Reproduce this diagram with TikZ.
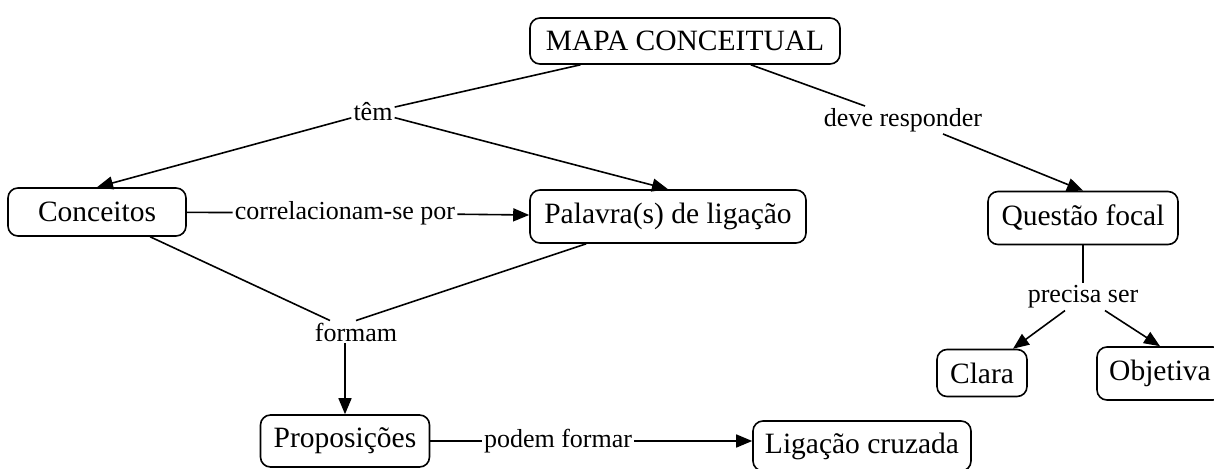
\documentclass[tikz,border=0pt]{standalone}
\usepackage{fontspec}
\setmainfont{Liberation Serif}
\usetikzlibrary{arrows.meta,calc}
\begin{document}
\begin{tikzpicture}[x=1pt,y=-1pt,
  concept/.style={draw, rounded corners=10pt, line width=1.6pt, inner sep=0pt,
    font=\fontsize{29.5}{33}\selectfont},
  lbl/.style={inner sep=2pt, font=\fontsize{26}{30}\selectfont},
  link/.style={line width=1.6pt},
  arr/.style={line width=1.6pt, -{Triangle[length=16pt,width=13pt]}}]
\useasboundingbox (0,0) rectangle (1214,468);
\clip (0,0) rectangle (1214,468);
% concepts
\node[concept, minimum width=310pt, minimum height=46pt] (mapa) at (685,41) {MAPA CONCEITUAL};
\node[concept, minimum width=178pt, minimum height=48pt] (conceitos) at (97,212) {Conceitos};
\node[concept, minimum width=276pt, minimum height=53pt] (palavra) at (668,216.5) {Palavra(s) de ligação};
\node[concept, minimum width=190pt, minimum height=53pt] (questao) at (1083,218) {Questão focal};
\node[concept, minimum width=90pt, minimum height=47pt] (clara) at (982,373) {Clara};
\node[concept, minimum width=126pt, minimum height=53pt] (objetiva) at (1160,373.5) {Objetiva};
\node[concept, minimum width=169pt, minimum height=52pt] (prop) at (345,441) {Proposições};
\node[concept, minimum width=218pt, minimum height=50pt] (ligacao) at (862,446) {Ligação cruzada};
% linking phrases
\node[lbl] (tem) at (373,112) {têm};
\node[lbl] (dr) at (903,120) {deve responder};
\node[lbl] (corr) at (345,213) {correlacionam-se por};
\node[lbl] (ps) at (1083,297) {precisa ser};
\node[lbl] (formam) at (356,332) {formam};
\node[lbl] (podem) at (558,441) {podem formar};
% connectors
\draw[link] (mapa) -- (tem);
\draw[arr] (tem) -- (conceitos.north);
\draw[arr] (tem) -- (palavra.north);
\draw[link] (mapa) -- ([xshift=-38pt]dr.north);
\draw[arr] ([xshift=40pt]dr.south) -- (questao.north);
\draw[link] (conceitos) -- (corr);
\draw[arr] (corr) -- (palavra);
\draw[link] (conceitos) -- ([xshift=-26pt]formam.north);
\draw[link] (palavra) -- (formam.north);
\draw[arr] (formam.south -| prop.north) -- (prop.north);
\draw[link] (questao) -- (ps);
\draw[arr] ([xshift=-18pt]ps.south) -- ([xshift=31pt]clara.north);
\draw[arr] ([xshift=22pt]ps.south) -- (objetiva.north);
\draw[link] (prop) -- (podem);
\draw[arr] (podem) -- (podem -| ligacao.west);
\end{tikzpicture}
\end{document}
